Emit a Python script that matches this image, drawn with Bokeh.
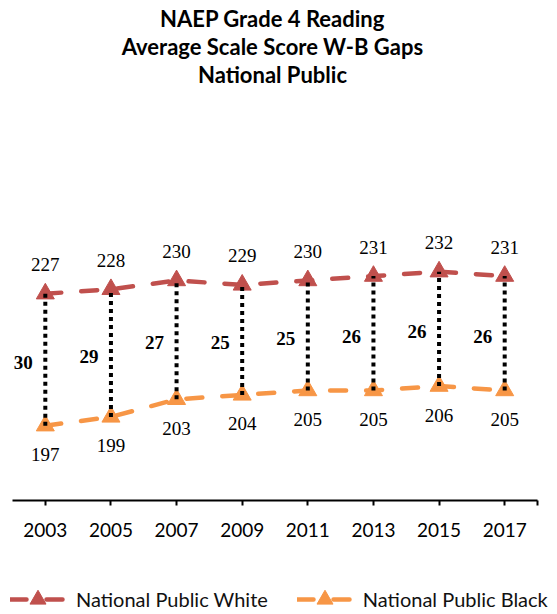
from bokeh.plotting import figure
from bokeh.models import (ColumnDataSource, LabelSet, Label, FixedTicker, Range1d,
                          Legend, LegendItem)
from bokeh.embed import file_html
from bokeh.resources import INLINE

years = ["2003", "2005", "2007", "2009", "2011", "2013", "2015", "2017"]
white = [227, 228, 230, 229, 230, 231, 232, 231]
black = [197, 199, 203, 204, 205, 205, 206, 205]
gaps = [30, 29, 27, 25, 25, 26, 26, 26]
title_lines = ["NAEP Grade 4 Reading", "Average Scale Score W-B Gaps", "National Public"]
series_names = ["National Public White", "National Public Black"]

FONT = "Lato"
WHITE_C = "#C0504D"
BLACK_C = "#F79646"

W, H = 557, 614
# plot area (axis extent) in canvas pixels
FL, FR, FT, FB = 12, 537, 192, 500
Y_MIN, Y_MAX = 180, 250

n = len(years)
x = list(range(n))
mid = [(w + b) / 2 for w, b in zip(white, black)]
src = ColumnDataSource(dict(
    x=x, white=white, black=black, mid=mid,
    wl=[str(v) for v in white], bl=[str(v) for v in black], gl=[str(g) for g in gaps]))

# the frame covers the whole canvas; ranges are widened so the plot area sits at FL..FR, FT..FB
a0, a1 = -0.5, n - 0.5
xu = (FR - FL) / (a1 - a0)
yu = (FB - FT) / (Y_MAX - Y_MIN)
x_range = Range1d(a0 - FL / xu, a1 + (W - FR) / xu)
y_range = Range1d(Y_MIN - (H - FB) / yu, Y_MAX + FT / yu)

p = figure(width=W, height=H, output_backend="svg", toolbar_location=None,
           x_range=x_range, y_range=y_range, y_axis_location=None, title=None,
           min_border=0)
p.outline_line_color = None
p.xgrid.visible = False
p.ygrid.visible = False

ax = p.xaxis[0]
ax.fixed_location = Y_MIN
ax.bounds = (a0, a1)
ax.ticker = FixedTicker(ticks=x + [a1])
overrides = {i: y for i, y in zip(x, years)}
overrides[a1] = ""
ax.major_label_overrides = overrides
ax.axis_line_color = "black"
ax.axis_line_width = 2
ax.major_tick_line_color = "black"
ax.major_tick_line_width = 2
ax.major_tick_in = 0
ax.major_tick_out = 5
ax.minor_tick_line_color = None
ax.major_label_standoff = 17
ax.major_label_text_font = FONT
ax.major_label_text_font_size = "19px"
ax.major_label_text_color = "black"

line_kw = dict(line_width=4.5, line_dash="16 20", line_cap="round")
rw = p.line('x', 'white', source=src, color=WHITE_C, **line_kw)
rb = p.line('x', 'black', source=src, color=BLACK_C, **line_kw)
mw = p.scatter('x', 'white', source=src, marker="triangle", size=18, color=WHITE_C)
mb = p.scatter('x', 'black', source=src, marker="triangle", size=18, color=BLACK_C)
p.segment(x0='x', y0='black', x1='x', y1='white', source=src, color="black",
          line_width=4, line_dash="4 4")

common = dict(source=src, text_font=FONT, text_font_size="19px", text_color="black",
              text_align="center", text_baseline="middle")
p.add_layout(LabelSet(x='x', y='white', text='wl', y_offset=29, **common))
p.add_layout(LabelSet(x='x', y='black', text='bl', y_offset=-29, **common))
p.add_layout(LabelSet(x='x', y='mid', text='gl', x_offset=-22, y_offset=-3,
                      text_font_style="bold", **common))

legend = Legend(items=[LegendItem(label=series_names[0], renderers=[rw, mw]),
                       LegendItem(label=series_names[1], renderers=[rb, mb])],
                orientation="horizontal", location=(10, H - 619), padding=0, margin=0,
                spacing=29, label_standoff=11, glyph_width=55, glyph_height=40,
                label_height=20,
                label_text_font=FONT, label_text_font_size="20px",
                label_text_color="#111111", border_line_color=None,
                background_fill_alpha=0)
p.add_layout(legend)

title_y = [17.5, 45.5, 73.5]   # canvas y of each title line centre
for t, cy in zip(title_lines, title_y):
    p.add_layout(Label(x=272, y=H - cy, x_units="screen", y_units="screen",
                       text=t, text_align="center", text_baseline="middle",
                       text_font=FONT, text_font_size="22px", text_font_style="bold",
                       text_color="black"))

open("out.html", "w").write(file_html(p, INLINE))
